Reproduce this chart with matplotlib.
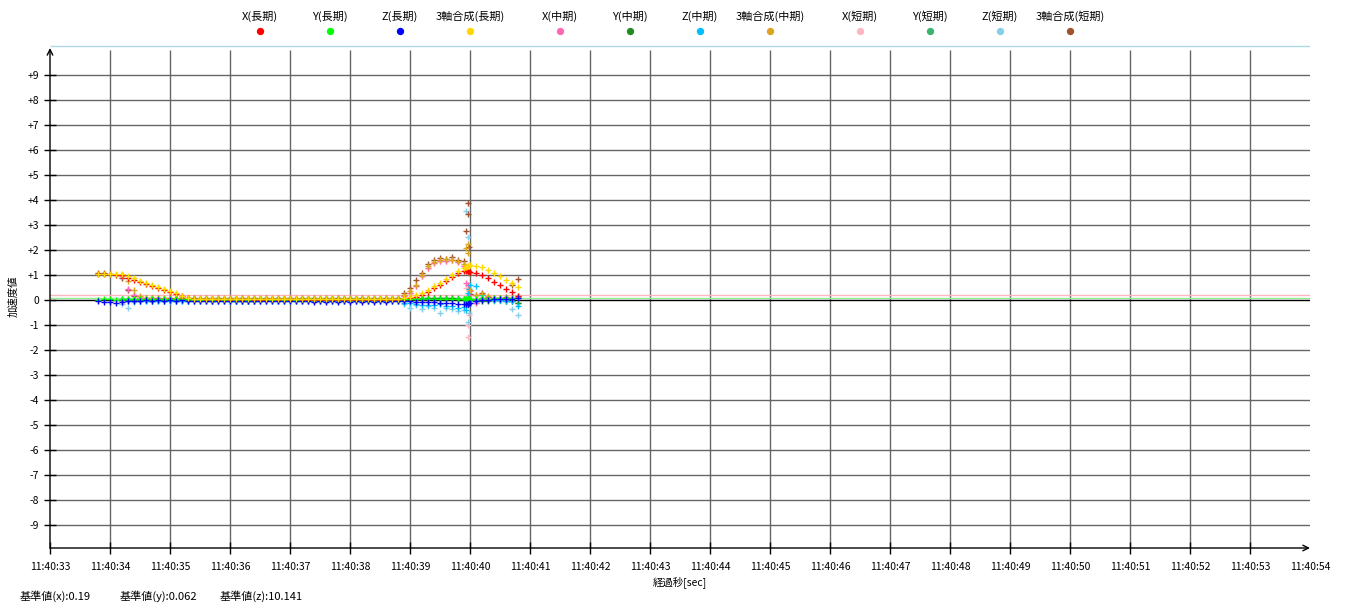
import numpy as np
import matplotlib
matplotlib.use("Agg")
import matplotlib.pyplot as plt

plt.rcParams['font.family'] = ['Noto Sans CJK JP', 'DejaVu Sans']

nan = np.nan

# time in seconds after 11:40:00
t = [33.8, 33.9, 34.0, 34.1, 34.2, 34.3, 34.4, 34.5, 34.6, 34.7,
     34.8, 34.9, 35.0, 35.1, 35.2, 35.3, 35.4, 35.5, 35.6, 35.7,
     35.8, 35.9, 36.0, 36.1, 36.2, 36.3, 36.4, 36.5, 36.6, 36.7,
     36.8, 36.9, 37.0, 37.1, 37.2, 37.3, 37.4, 37.5, 37.6, 37.7,
     37.8, 37.9, 38.0, 38.1, 38.2, 38.3, 38.4, 38.5, 38.6, 38.7,
     38.8, 38.9, 39.0, 39.1, 39.2, 39.3, 39.4, 39.5, 39.6, 39.7,
     39.8, 39.9, 39.94, 39.96, 39.97, 39.98, 40.0, 40.1, 40.2, 40.3,
     40.4, 40.5, 40.6, 40.7, 40.8]

x_long = [1.03, 1.03, 1.03, 1.02, 1.01, 0.90, 0.82, 0.73, 0.65, 0.57,
          0.49, 0.41, 0.33, 0.24, 0.15, 0.07, 0.03, 0.02, 0.02, 0.01,
          0.02, 0.01, 0.02, 0.01, 0.01, 0.02, 0.01, 0.02, 0.01, 0.01,
          0.02, 0.01, 0.01, 0.02, 0.01, 0.00, -0.01, 0.00, -0.01, 0.00,
          -0.01, 0.00, -0.01, 0.00, -0.01, 0.00, -0.01, 0.00, -0.01, 0.00,
          0.01, 0.04, 0.08, 0.14, 0.22, 0.33, 0.47, 0.62, 0.78, 0.94,
          1.07, 1.15, 1.17, 1.16, 1.15, 1.14, 1.12, 1.08, 0.99, 0.87,
          0.73, 0.59, 0.45, 0.31, 0.17]
y_long = [0.02, 0.03, 0.03, 0.02, 0.03, 0.04, 0.05, 0.04, 0.05, 0.04,
          0.05, 0.04, 0.05, 0.04, 0.05, 0.04, 0.03, 0.02, 0.03, 0.02,
          0.03, 0.02, 0.03, 0.02, 0.03, 0.02, 0.03, 0.04, 0.03, 0.02,
          0.03, 0.02, 0.03, 0.02, 0.03, 0.05, 0.06, 0.05, 0.06, 0.05,
          0.06, 0.05, 0.06, 0.05, 0.06, 0.05, 0.06, 0.05, 0.06, 0.05,
          0.05, 0.04, 0.03, 0.05, 0.04, 0.05, 0.06, 0.05, 0.06, 0.05,
          0.06, 0.05, 0.06, 0.05, 0.06, 0.05, 0.05, 0.06, 0.07, 0.06,
          0.07, 0.08, 0.08, 0.09, 0.10]
z_long = [-0.05, -0.06, -0.08, -0.10, -0.09, -0.05, -0.03, -0.02, -0.01, -0.02,
          -0.01, -0.02, -0.01, -0.02, -0.01, -0.02, -0.03, -0.02, -0.03, -0.02,
          -0.03, -0.02, -0.03, -0.02, -0.03, -0.02, -0.03, -0.02, -0.03, -0.02,
          -0.03, -0.02, -0.03, -0.02, -0.03, -0.05, -0.06, -0.05, -0.06, -0.05,
          -0.06, -0.05, -0.06, -0.05, -0.06, -0.05, -0.06, -0.05, -0.06, -0.05,
          -0.04, -0.04, -0.05, -0.06, -0.07, -0.08, -0.09, -0.10, -0.12, -0.13,
          -0.14, -0.15, -0.16, -0.15, -0.14, -0.13, -0.10, -0.04, 0.00, 0.02,
          0.03, 0.04, 0.05, 0.06, 0.08]
c_long = [1.04, 1.05, 1.04, 1.04, 1.03, 0.95, 0.88, 0.78, 0.70, 0.62,
          0.54, 0.45, 0.37, 0.28, 0.18, 0.10, 0.06, 0.05, 0.06, 0.05,
          0.06, 0.05, 0.06, 0.05, 0.06, 0.05, 0.06, 0.05, 0.06, 0.05,
          0.06, 0.05, 0.06, 0.05, 0.06, 0.05, 0.06, 0.05, 0.06, 0.05,
          0.06, 0.05, 0.06, 0.05, 0.06, 0.05, 0.06, 0.05, 0.06, 0.05,
          0.06, 0.08, 0.12, 0.20, 0.30, 0.42, 0.55, 0.70, 0.86, 1.02,
          1.17, 1.28, 1.33, 1.36, 1.37, 1.38, 1.40, 1.38, 1.31, 1.21,
          1.10, 0.97, 0.82, 0.67, 0.52]

x_mid = [nan, nan, nan, nan, 0.95, 0.45, 0.22, 0.10, 0.06, 0.05,
         0.04, 0.05, 0.04, 0.05, 0.04, 0.05, 0.04, 0.05, 0.04, 0.05,
         0.04, 0.05, 0.04, 0.05, 0.04, 0.05, 0.04, 0.05, 0.04, 0.05,
         0.04, 0.05, 0.04, 0.05, 0.04, 0.05, 0.04, 0.05, 0.04, 0.05,
         0.04, 0.05, 0.04, 0.05, 0.04, 0.05, 0.04, 0.05, 0.04, 0.05,
         0.04, 0.15, 0.30, 0.55, 0.95, 1.30, 1.48, 1.55, 1.58, 1.60,
         1.52, 1.38, 0.70, 0.60, -0.10, 0.20, 0.35, -0.13, 0.10, 0.08,
         0.05, 0.05, 0.06, 0.08, 0.12]
y_mid = [nan, nan, nan, nan, 0.02, 0.01, 0.02, 0.01, 0.02, 0.01,
         0.02, 0.01, 0.02, 0.01, 0.02, 0.01, 0.00, -0.01, 0.00, -0.02,
         0.00, -0.01, -0.02, -0.03, -0.04, -0.03, -0.02, -0.01, 0.00, 0.01,
         0.00, 0.01, 0.00, 0.01, 0.00, 0.01, 0.00, 0.01, 0.00, 0.01,
         0.00, 0.01, 0.00, 0.01, 0.00, 0.01, 0.00, 0.01, 0.00, 0.01,
         0.00, 0.02, 0.03, 0.05, 0.06, 0.07, 0.08, 0.09, 0.08, 0.07,
         0.06, 0.05, 0.04, 0.03, 0.02, 0.01, 0.00, -0.02, -0.03, -0.02,
         -0.01, 0.00, -0.02, -0.05, -0.10]
z_mid = [nan, nan, nan, nan, 0.05, -0.05, -0.03, -0.02, -0.03, -0.02,
         -0.03, -0.02, -0.03, -0.02, -0.03, -0.02, -0.03, -0.02, -0.03, -0.02,
         -0.03, -0.02, -0.03, -0.02, -0.03, -0.02, -0.03, -0.02, -0.03, -0.02,
         -0.03, -0.02, -0.03, -0.02, -0.03, -0.02, -0.03, -0.02, -0.03, -0.02,
         -0.03, -0.02, -0.03, -0.02, -0.03, -0.02, -0.03, -0.02, -0.03, -0.02,
         -0.03, -0.10, -0.12, -0.15, -0.20, -0.18, -0.20, -0.15, -0.22, -0.25,
         -0.30, -0.28, -0.40, 0.10, 0.30, 0.45, 0.60, 0.55, 0.20, 0.05,
         0.02, 0.00, -0.02, -0.05, -0.25]
c_mid = [nan, nan, nan, nan, 1.02, 0.75, 0.40, 0.18, 0.10, 0.08,
         0.06, 0.07, 0.06, 0.07, 0.06, 0.07, 0.06, 0.07, 0.06, 0.07,
         0.06, 0.07, 0.06, 0.07, 0.06, 0.07, 0.06, 0.07, 0.06, 0.07,
         0.06, 0.07, 0.06, 0.07, 0.06, 0.07, 0.06, 0.07, 0.06, 0.07,
         0.06, 0.07, 0.06, 0.07, 0.06, 0.07, 0.06, 0.07, 0.06, 0.07,
         0.05, 0.22, 0.38, 0.62, 1.00, 1.38, 1.53, 1.60, 1.63, 1.60,
         1.55, 1.45, 2.10, 2.25, 1.90, 1.10, 0.40, 0.20, 0.25, 0.15,
         0.10, 0.08, 0.08, 0.10, 0.15]

x_short = [nan, nan, nan, nan, 0.90, 0.40, 0.20, 0.10, 0.06, 0.05,
           0.04, 0.05, 0.04, 0.05, 0.04, 0.05, 0.04, 0.05, 0.04, 0.05,
           0.04, 0.05, 0.04, 0.05, 0.04, 0.05, 0.04, 0.05, 0.04, 0.05,
           0.04, 0.05, 0.04, 0.05, 0.04, 0.05, 0.04, 0.05, 0.04, 0.05,
           0.04, 0.05, 0.04, 0.05, 0.04, 0.05, 0.04, 0.05, 0.04, 0.05,
           0.05, 0.15, 0.30, 0.55, 0.95, 1.30, 1.48, 1.55, 1.58, 1.60,
           1.52, 1.38, 0.50, -1.00, -1.47, -0.60, 0.20, 0.10, 0.08, 0.06,
           0.05, 0.05, 0.06, 0.08, 0.10]
y_short = [nan, nan, nan, nan, 0.02, 0.03, 0.02, 0.03, 0.02, 0.03,
           0.02, 0.03, 0.02, 0.03, 0.02, 0.03, 0.02, 0.03, 0.02, 0.03,
           0.02, 0.03, 0.02, 0.03, 0.02, 0.03, 0.02, 0.03, 0.02, 0.03,
           0.02, 0.03, 0.02, 0.03, 0.02, 0.03, 0.02, 0.03, 0.02, 0.03,
           0.02, 0.03, 0.02, 0.03, 0.02, 0.03, 0.02, 0.03, 0.02, 0.03,
           0.02, 0.03, 0.05, 0.06, 0.08, 0.07, 0.09, 0.08, 0.10, 0.08,
           0.07, 0.05, 0.00, -0.10, -0.20, -0.05, 0.02, 0.00, 0.01, 0.02,
           0.01, 0.02, 0.00, -0.05, -0.10]
z_short = [nan, nan, nan, nan, -0.15, -0.30, -0.08, -0.03, -0.05, -0.03,
           -0.04, -0.03, -0.05, -0.03, -0.04, -0.03, -0.05, -0.03, -0.04, -0.03,
           -0.05, -0.03, -0.04, -0.03, -0.05, -0.03, -0.04, -0.03, -0.05, -0.03,
           -0.04, -0.03, -0.05, -0.03, -0.04, -0.03, -0.05, -0.03, -0.04, -0.03,
           -0.05, -0.03, -0.04, -0.03, -0.05, -0.03, -0.04, -0.03, -0.05, -0.03,
           -0.05, -0.15, -0.30, -0.20, -0.35, -0.25, -0.30, -0.50, -0.30, -0.35,
           -0.45, -0.40, 3.56, 2.53, -0.87, -0.50, 0.25, -0.10, -0.05, 0.00,
           -0.02, -0.03, -0.05, -0.35, -0.60]
c_short = [1.08, 1.07, nan, nan, 0.90, 0.40, 0.15, 0.10, 0.10, 0.07,
           0.08, 0.06, 0.08, 0.06, 0.08, 0.06, 0.08, 0.06, 0.08, 0.06,
           0.08, 0.06, 0.08, 0.06, 0.08, 0.06, 0.08, 0.06, 0.08, 0.06,
           0.08, 0.06, 0.08, 0.06, 0.08, 0.06, 0.08, 0.06, 0.08, 0.06,
           0.08, 0.06, 0.08, 0.06, 0.08, 0.06, 0.08, 0.06, 0.08, 0.06,
           0.10, 0.30, 0.50, 0.80, 1.10, 1.45, 1.60, 1.68, 1.66, 1.72,
           1.62, 1.55, 2.75, 3.45, 3.87, 2.13, 0.25, 0.20, 0.30, 0.12,
           0.08, 0.10, 0.12, 0.60, 0.84]

series_labels = ['X(長期)', 'Y(長期)', 'Z(長期)', '3軸合成(長期)',
                 'X(中期)', 'Y(中期)', 'Z(中期)', '3軸合成(中期)',
                 'X(短期)', 'Y(短期)', 'Z(短期)', '3軸合成(短期)']
series_values = [x_long, y_long, z_long, c_long,
                 x_mid, y_mid, z_mid, c_mid,
                 x_short, y_short, z_short, c_short]
series_colors = ['#ff0000', '#00ff00', '#0000ff', '#ffd700',
                 '#ff69b4', '#228b22', '#00bfff', '#daa520',
                 '#ffb6c1', '#3cb371', '#87ceeb', '#a0522d']

base_x = 0.19
base_y = 0.062
base_z = 10.141

x_ticks = list(range(33, 55))
x_tick_labels = ['11:40:%02d' % s for s in x_ticks]
y_ticks = list(range(-9, 10))
y_tick_labels = [('+%d' % v if v > 0 else str(v)) for v in y_ticks]

W, H = 1350, 610
fig = plt.figure(figsize=(W / 100, H / 100), dpi=100)
ax = fig.add_axes([50 / W, 62 / H, 1260 / W, 503 / H])
ymin, ymax = -9.92, 10.2
ax.set_xlim(33, 54)
ax.set_ylim(ymin, ymax)
for sp in ax.spines.values():
    sp.set_visible(False)

grid_c = '#666666'
ax.vlines([v for v in x_ticks if 33 < v < 54], ymin, 10.0, color=grid_c, lw=1.0, zorder=1)
ax.hlines([v for v in y_ticks if v != 0], 33, 54, color=grid_c, lw=1.0, zorder=1)

# baselines
ax.hlines(base_z, 33, 54, color='#add8e6', lw=1.0, zorder=2)
ax.hlines(base_x, 33, 54, color='#ffb6c1', lw=1.0, zorder=2)
ax.hlines(base_y, 33, 54, color='#90ee90', lw=1.0, zorder=2)
ax.hlines(0, 33, 54, color='black', lw=1.0, zorder=2)

# short-term drawn first, long-term on top
order = [8, 9, 10, 11, 4, 5, 6, 7, 0, 1, 2, 3]
for k in order:
    ax.plot(t, series_values[k], linestyle='none', marker='+', markersize=4.2,
            markeredgewidth=1.0, color=series_colors[k], zorder=3)

# axes with arrows
ax.annotate('', xy=(54, ymin), xytext=(33, ymin), xycoords='data',
            arrowprops=dict(arrowstyle='->', lw=1.0, color='black',
                            shrinkA=0, shrinkB=0, mutation_scale=10),
            annotation_clip=False, zorder=4)
ax.annotate('', xy=(33, 10.08), xytext=(33, ymin), xycoords='data',
            arrowprops=dict(arrowstyle='->', lw=1.0, color='black',
                            shrinkA=0, shrinkB=0, mutation_scale=10),
            annotation_clip=False, zorder=4)

ax.set_xticks(x_ticks)
ax.set_xticklabels(x_tick_labels)
ax.set_yticks(y_ticks)
ax.set_yticklabels(y_tick_labels)
ax.tick_params(axis='both', direction='inout', length=8, width=1.0,
               color='black', labelsize=7.5, labelcolor='black')
ax.tick_params(axis='x', pad=6)
ax.tick_params(axis='y', pad=4)
ax.xaxis.get_major_ticks()[-1].tick1line.set_visible(False)

ax.set_xlabel('経過秒[sec]', fontsize=7.5, labelpad=3)
ax.set_ylabel('加速度値', fontsize=7.5, labelpad=6)

# legend along the top
lax = fig.add_axes([0, 0, 1, 1], facecolor='none')
lax.set_xlim(0, W)
lax.set_ylim(H, 0)
lax.axis('off')
leg_x = [260, 330, 400, 470, 560, 630, 700, 770, 860, 930, 1000, 1070]
for lx, lab, col in zip(leg_x, series_labels, series_colors):
    lax.text(lx, 16, lab, ha='center', va='center', fontsize=8)
    lax.scatter([lx], [31], s=28, color=col, marker='o', linewidths=0)

lax.text(20, 596, '基準値(x):%s' % base_x, ha='left', va='center', fontsize=8)
lax.text(120, 596, '基準値(y):%s' % base_y, ha='left', va='center', fontsize=8)
lax.text(220, 596, '基準値(z):%s' % base_z, ha='left', va='center', fontsize=8)

fig.savefig('out.png', dpi=100, facecolor='white')
